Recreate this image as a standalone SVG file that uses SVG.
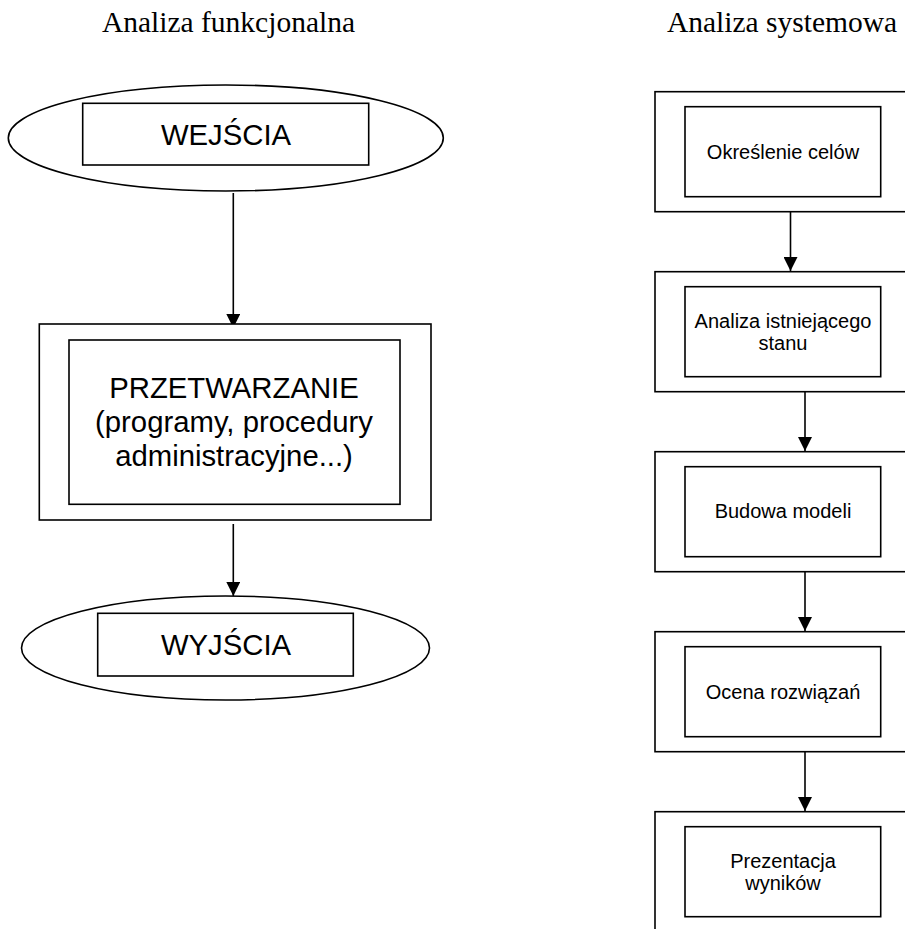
<svg xmlns="http://www.w3.org/2000/svg" width="905" height="929" viewBox="0 0 905 929">
<style>
.bg{fill:#fff}
.sh{fill:#fff;stroke:#000;stroke-width:1.6}
.title{font-family:"Liberation Serif","Times New Roman",serif;font-size:29.5px;fill:#000;text-anchor:middle}
.big{font-family:"Liberation Sans",Arial,sans-serif;font-size:29.3px;fill:#000;text-anchor:middle}
.sm{font-family:"Liberation Sans",Arial,sans-serif;font-size:20px;fill:#000;text-anchor:middle}
.ln{stroke:#000;stroke-width:1.6;fill:none}
</style>
<defs>
<marker id="ah" viewBox="0 0 14 14" refX="14" refY="7" markerWidth="14" markerHeight="14" markerUnits="userSpaceOnUse" orient="auto">
<path d="M0,0 L14,7 L0,14 Z" fill="#000"/>
</marker>
</defs>
<rect class="bg" x="0" y="0" width="905" height="929"/>
<text class="title" x="228.5" y="32">Analiza funkcjonalna</text>
<text class="title" x="782" y="32">Analiza systemowa</text>
<g id="connectors">
<line class="ln" x1="233.3" y1="193" x2="233.3" y2="328" marker-end="url(#ah)"/>
<line class="ln" x1="233.3" y1="524" x2="233.3" y2="596" marker-end="url(#ah)"/>
<line class="ln" x1="790.5" y1="211.7" x2="790.5" y2="271" marker-end="url(#ah)"/>
<line class="ln" x1="805" y1="391.7" x2="805" y2="451" marker-end="url(#ah)"/>
<line class="ln" x1="805" y1="571.7" x2="805" y2="631" marker-end="url(#ah)"/>
<line class="ln" x1="805" y1="751.7" x2="805" y2="811" marker-end="url(#ah)"/>
</g>
<g id="wejscia">
<ellipse class="sh" cx="225.8" cy="138" rx="217.5" ry="53"/>
<rect class="sh" x="82.7" y="103.3" width="286" height="61.7"/>
<text class="big" x="226" y="145">WEJŚCIA</text>
</g>
<g id="przetwarzanie">
<rect class="sh" x="39.3" y="324" width="391.7" height="196"/>
<rect class="sh" x="69" y="340" width="331" height="164.3"/>
<text class="big" x="234" y="398">PRZETWARZANIE</text>
<text class="big" x="234" y="432">(programy, procedury</text>
<text class="big" x="234" y="466">administracyjne...)</text>
</g>
<g id="wyjscia">
<ellipse class="sh" cx="225.5" cy="648" rx="204" ry="52"/>
<rect class="sh" x="97.7" y="613.3" width="255.6" height="62.7"/>
<text class="big" x="226" y="655">WYJŚCIA</text>
</g>
<g id="cele">
<rect class="sh" x="655" y="91.7" width="300" height="120"/>
<rect class="sh" x="685" y="106.7" width="195.7" height="90"/>
<text class="sm" x="783" y="159.3">Określenie celów</text>
</g>
<g id="stan">
<rect class="sh" x="655" y="271.7" width="300" height="120"/>
<rect class="sh" x="685" y="286.7" width="195.7" height="90"/>
<text class="sm" x="783" y="328.3">Analiza istniejącego</text>
<text class="sm" x="783" y="349.5">stanu</text>
</g>
<g id="modele">
<rect class="sh" x="655" y="451.7" width="300" height="120"/>
<rect class="sh" x="685" y="466.7" width="195.7" height="90"/>
<text class="sm" x="783" y="518.3">Budowa modeli</text>
</g>
<g id="ocena">
<rect class="sh" x="655" y="631.7" width="300" height="120"/>
<rect class="sh" x="685" y="646.7" width="195.7" height="90"/>
<text class="sm" x="783" y="699.3">Ocena rozwiązań</text>
</g>
<g id="prezentacja">
<rect class="sh" x="655" y="811.7" width="300" height="140"/>
<rect class="sh" x="685" y="826.7" width="195.7" height="90"/>
<text class="sm" x="783" y="868.3">Prezentacja</text>
<text class="sm" x="783" y="890">wyników</text>
</g>
</svg>
